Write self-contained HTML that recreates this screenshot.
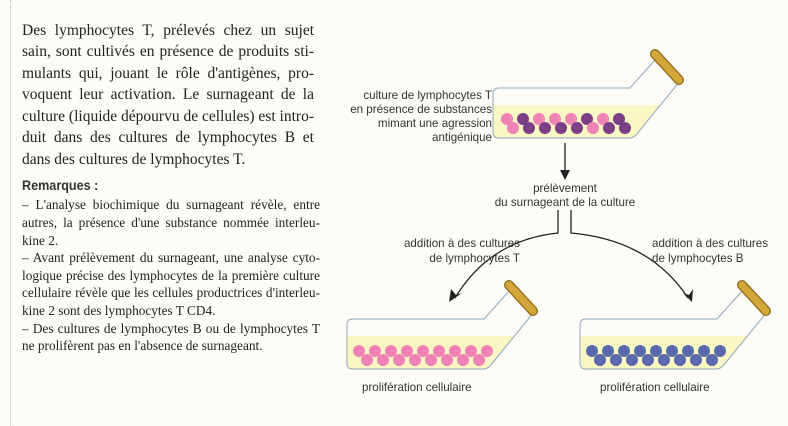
<!DOCTYPE html>
<html><head><meta charset="utf-8"><style>
body{margin:0;width:788px;height:426px;background:#fdfcf7;position:relative;overflow:hidden}
.l{position:absolute;left:22px;white-space:nowrap;font-family:"Liberation Serif",serif;color:#222}
.m{font-size:15.5px;width:292px}
.r{font-size:13.3px;width:298px}
.j{text-align:justify;text-align-last:justify;white-space:normal;height:18px;overflow:visible}
.s{font-family:"Liberation Sans",sans-serif;font-size:11.6px;fill:#333}
</style></head><body>
<div style="position:absolute;left:10px;top:0;height:426px;border-left:1px dotted #bbb"></div>
<div class="l m j" style="top:22px">Des lymphocytes T, prélevés chez un sujet</div>
<div class="l m j" style="top:43px">sain, sont cultivés en présence de produits sti-</div>
<div class="l m j" style="top:65px">mulants qui, jouant le rôle d'antigènes, pro-</div>
<div class="l m j" style="top:86px">voquent leur activation. Le surnageant de la</div>
<div class="l m j" style="top:108px">culture (liquide dépourvu de cellules) est intro-</div>
<div class="l m j" style="top:129px">duit dans des cultures de lymphocytes B et</div>
<div class="l m" style="top:151px">dans des cultures de lymphocytes T.</div>
<div class="l" style="top:177px;font-family:'Liberation Sans',sans-serif;font-size:14px;font-weight:bold;color:#333;transform:scaleX(.9);transform-origin:left">Remarques :</div>
<div class="l r j" style="top:197px">– L'analyse biochimique du surnageant révèle, entre</div>
<div class="l r j" style="top:215px">autres, la présence d'une substance nommée interleu-</div>
<div class="l r" style="top:233px">kine 2.</div>
<div class="l r j" style="top:250px">– Avant prélèvement du surnageant, une analyse cyto-</div>
<div class="l r j" style="top:268px">logique précise des lymphocytes de la première culture</div>
<div class="l r j" style="top:285px">cellulaire révèle que les cellules productrices d'interleu-</div>
<div class="l r" style="top:303px">kine 2 sont des lymphocytes T CD4.</div>
<div class="l r j" style="top:321px">– Des cultures de lymphocytes B ou de lymphocytes T</div>
<div class="l r" style="top:338px">ne prolifèrent pas en l'absence de surnageant.</div>
<svg width="788" height="426" style="position:absolute;left:0;top:0">
<defs>
<g id="flask">
<path d="M0,17 L167,17 L143,47 Q140,50 136,50 L6,50 Q0,50 0,44 Z" fill="#fbf7c4"/>
<path d="M6,0 L137,0 L163,-29 L187,-7 L143,47 Q140,50 136,50 L6,50 Q0,50 0,44 L0,6 Q0,0 6,0 Z" fill="none" stroke="#8fa9bd" stroke-width="1"/>
<line x1="162" y1="-34" x2="186" y2="-8" stroke="#8a6a1a" stroke-width="10" stroke-linecap="round"/>
<line x1="162" y1="-34" x2="186" y2="-8" stroke="#d2a638" stroke-width="7.5" stroke-linecap="round"/>
</g>
</defs>
<g transform="translate(493,88)"><use href="#flask"/>
<g>
<circle cx="14" cy="31" r="6" fill="#f082b6"/><circle cx="30" cy="31" r="6" fill="#7b3f88"/><circle cx="46" cy="31" r="6" fill="#f082b6"/><circle cx="62" cy="31" r="6" fill="#f082b6"/><circle cx="78" cy="31" r="6" fill="#f082b6"/><circle cx="94" cy="31" r="6" fill="#7b3f88"/><circle cx="110" cy="31" r="6" fill="#f082b6"/><circle cx="126" cy="31" r="6" fill="#7b3f88"/>
<circle cx="20" cy="40" r="6" fill="#f082b6"/><circle cx="36" cy="40" r="6" fill="#7b3f88"/><circle cx="52" cy="40" r="6" fill="#7b3f88"/><circle cx="68" cy="40" r="6" fill="#7b3f88"/><circle cx="84" cy="40" r="6" fill="#7b3f88"/><circle cx="100" cy="40" r="6" fill="#f082b6"/><circle cx="116" cy="40" r="6" fill="#7b3f88"/><circle cx="132" cy="40" r="6" fill="#7b3f88"/>
</g></g>
<g transform="translate(347,319)"><use href="#flask"/>
<g fill="#f082b6">
<circle cx="12" cy="32" r="6"/><circle cx="28" cy="32" r="6"/><circle cx="44" cy="32" r="6"/><circle cx="60" cy="32" r="6"/><circle cx="76" cy="32" r="6"/><circle cx="92" cy="32" r="6"/><circle cx="108" cy="32" r="6"/><circle cx="124" cy="32" r="6"/><circle cx="140" cy="32" r="6"/>
<circle cx="20" cy="41" r="6"/><circle cx="36" cy="41" r="6"/><circle cx="52" cy="41" r="6"/><circle cx="68" cy="41" r="6"/><circle cx="84" cy="41" r="6"/><circle cx="100" cy="41" r="6"/><circle cx="116" cy="41" r="6"/><circle cx="132" cy="41" r="6"/>
</g></g>
<g transform="translate(580,319)"><use href="#flask"/>
<g fill="#5a69ad">
<circle cx="12" cy="32" r="6"/><circle cx="28" cy="32" r="6"/><circle cx="44" cy="32" r="6"/><circle cx="60" cy="32" r="6"/><circle cx="76" cy="32" r="6"/><circle cx="92" cy="32" r="6"/><circle cx="108" cy="32" r="6"/><circle cx="124" cy="32" r="6"/><circle cx="140" cy="32" r="6"/>
<circle cx="20" cy="41" r="6"/><circle cx="36" cy="41" r="6"/><circle cx="52" cy="41" r="6"/><circle cx="68" cy="41" r="6"/><circle cx="84" cy="41" r="6"/><circle cx="100" cy="41" r="6"/><circle cx="116" cy="41" r="6"/><circle cx="132" cy="41" r="6"/>
</g></g>
<g stroke="#222" stroke-width="1.3" fill="none">
<line x1="565" y1="143" x2="565" y2="172"/>
<path d="M558,210 L558,233 Q490,240 455,298"/>
<path d="M571,210 L571,233 Q650,240 688,298"/>
</g>
<g fill="#222">
<path d="M560,170 L570,170 L565,180 Z"/>
<path d="M449,302 L451,289 L456,295 L462,293 Z"/>
<path d="M692,302 L683,293 L689,295 L693,289 Z"/>
</g>
<g class="s" text-anchor="end">
<text x="492" y="99">culture de lymphocytes T</text>
<text x="492" y="113">en présence de substances</text>
<text x="492" y="127">mimant une agression</text>
<text x="492" y="141">antigénique</text>
<text x="520" y="247">addition à des cultures</text>
<text x="520" y="262">de lymphocytes T</text>
</g>
<g class="s" text-anchor="middle">
<text x="565" y="192">prélèvement</text>
<text x="565" y="206">du surnageant de la culture</text>
</g>
<g class="s">
<text x="652" y="247">addition à des cultures</text>
<text x="652" y="262">de lymphocytes B</text>
<text x="362" y="391">prolifération cellulaire</text>
<text x="600" y="391">prolifération cellulaire</text>
</g>
</svg>
</body></html>
